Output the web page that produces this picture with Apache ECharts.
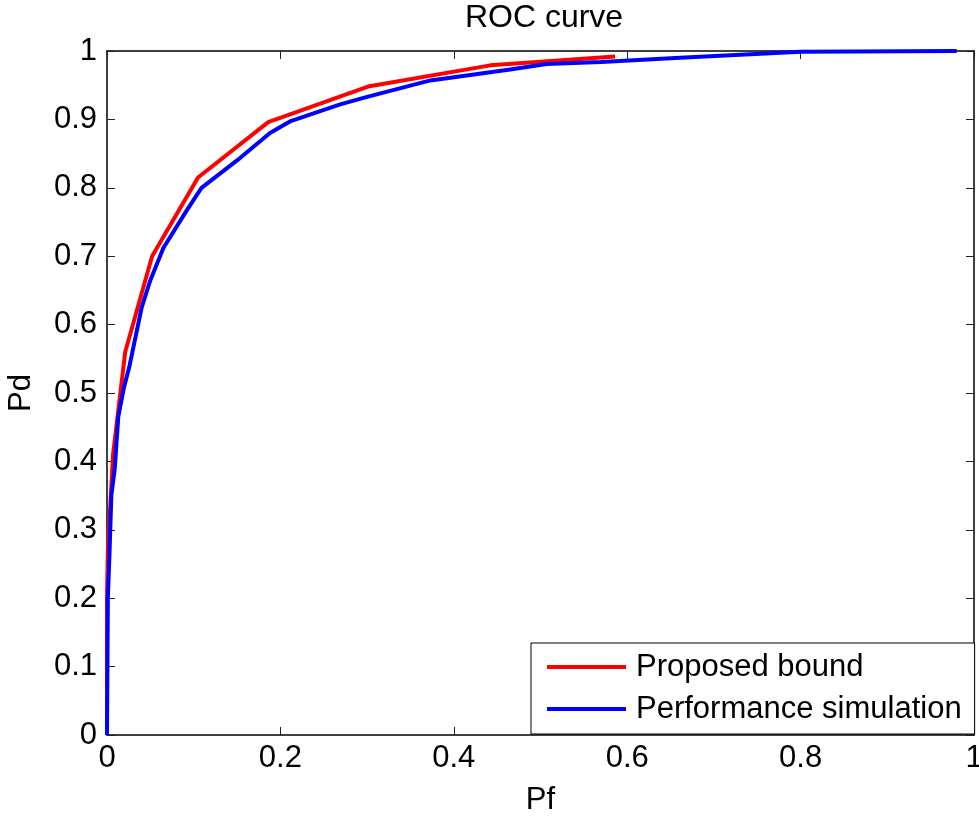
<!DOCTYPE html>
<html>
<head>
<meta charset="utf-8">
<script src="https://cdn.jsdelivr.net/npm/echarts@6/dist/echarts.min.js"></script>
<style>
html,body{margin:0;padding:0;background:#fff;overflow:hidden;width:979px;height:816px;}
#chart{position:absolute;left:0;top:0;width:979px;height:816px;}
</style>
</head>
<body>
<div id="chart"></div>
<script>
// Proposed bound (red)
var pfBound = [0, 0, 0.001, 0.007, 0.021, 0.052, 0.105, 0.186, 0.301, 0.442, 0.586];
var pdBound = [0, 0.2, 0.27, 0.41, 0.56, 0.70, 0.815, 0.896, 0.948, 0.979, 0.992];
// Performance simulation (blue)
var pfSim = [0, 0.001, 0.003, 0.005, 0.009, 0.013, 0.019, 0.026, 0.04, 0.05, 0.065, 0.092, 0.109, 0.15, 0.188, 0.211, 0.269, 0.3, 0.373, 0.465, 0.507, 0.57, 0.661, 0.8, 0.98];
var pdSim = [0, 0.2, 0.27, 0.35, 0.39, 0.465, 0.505, 0.54, 0.625, 0.665, 0.712, 0.767, 0.8, 0.84, 0.88, 0.897, 0.922, 0.933, 0.957, 0.973, 0.981, 0.984, 0.99, 0.999, 1.0];
var seriesNames = ['Proposed bound', 'Performance simulation'];
var titleText = 'ROC curve';
var xName = 'Pf';
var yName = 'Pd';

function zip(a, b) { return a.map(function (v, i) { return [v, b[i]]; }); }

var FONT = '"Liberation Sans", Arial, sans-serif';
var FS = 31;

var chart = echarts.init(document.getElementById('chart'), null, {renderer: 'canvas', width: 979, height: 816});

var baseAxisLine = {show: true, onZero: false, lineStyle: {color: '#000', width: 1.5}};
var tick = {show: true, inside: true, length: 8, lineStyle: {color: '#222', width: 1}};

chart.setOption({
  animation: false,
  backgroundColor: '#fff',
  title: {
    text: titleText,
    left: 544,
    textAlign: 'center',
    top: 2,
    padding: 0,
    textStyle: {fontFamily: FONT, fontSize: 32, fontWeight: 'normal', color: '#000', lineHeight: 32}
  },
  grid: {left: 107, right: 5, top: 51, bottom: 81, containLabel: false, outerBoundsMode: 'none'},
  legend: {
    data: seriesNames,
    orient: 'vertical',
    left: 531,
    top: 643,
    icon: 'rect',
    itemWidth: 79,
    itemHeight: 4,
    itemGap: 10,
    padding: [8, 13, 9, 16],
    backgroundColor: '#fff',
    borderColor: '#000',
    borderWidth: 1,
    borderRadius: 0,
    textStyle: {fontFamily: FONT, fontSize: FS, color: '#000', lineHeight: 32, padding: [0, 0, 0, 5]}
  },
  xAxis: [{
    type: 'value', min: 0, max: 1, interval: 0.2,
    name: xName, nameLocation: 'middle', nameGap: 50,
    nameTextStyle: {fontFamily: FONT, fontSize: FS, color: '#000'},
    axisLine: baseAxisLine, axisTick: tick, splitLine: {show: false},
    axisLabel: {fontFamily: FONT, fontSize: FS, color: '#000', margin: 8,
      formatter: function (v) { return String(+v.toFixed(1)); }}
  }, {
    type: 'value', min: 0, max: 1, interval: 0.2, position: 'top',
    axisLine: baseAxisLine, axisTick: tick, splitLine: {show: false}, axisLabel: {show: false}
  }],
  yAxis: [{
    type: 'value', min: 0, max: 1, interval: 0.1,
    name: yName, nameLocation: 'middle', nameGap: 70, nameRotate: 90,
    nameTextStyle: {fontFamily: FONT, fontSize: FS, color: '#000'},
    axisLine: baseAxisLine, axisTick: tick, splitLine: {show: false},
    axisLabel: {fontFamily: FONT, fontSize: FS, color: '#000', margin: 10,
      formatter: function (v) { return String(+v.toFixed(1)); }}
  }, {
    type: 'value', min: 0, max: 1, interval: 0.1, position: 'right',
    axisLine: baseAxisLine, axisTick: tick, splitLine: {show: false}, axisLabel: {show: false}
  }],
  series: [{
    name: seriesNames[0], type: 'line', xAxisIndex: 0, yAxisIndex: 0,
    data: zip(pfBound, pdBound), symbol: 'none', showSymbol: false,
    lineStyle: {color: '#ff0000', width: 4}, itemStyle: {color: '#ff0000'}
  }, {
    name: seriesNames[1], type: 'line', xAxisIndex: 0, yAxisIndex: 0,
    data: zip(pfSim, pdSim), symbol: 'none', showSymbol: false,
    lineStyle: {color: '#0000ff', width: 4}, itemStyle: {color: '#0000ff'}
  }]
});
</script>
</body>
</html>
